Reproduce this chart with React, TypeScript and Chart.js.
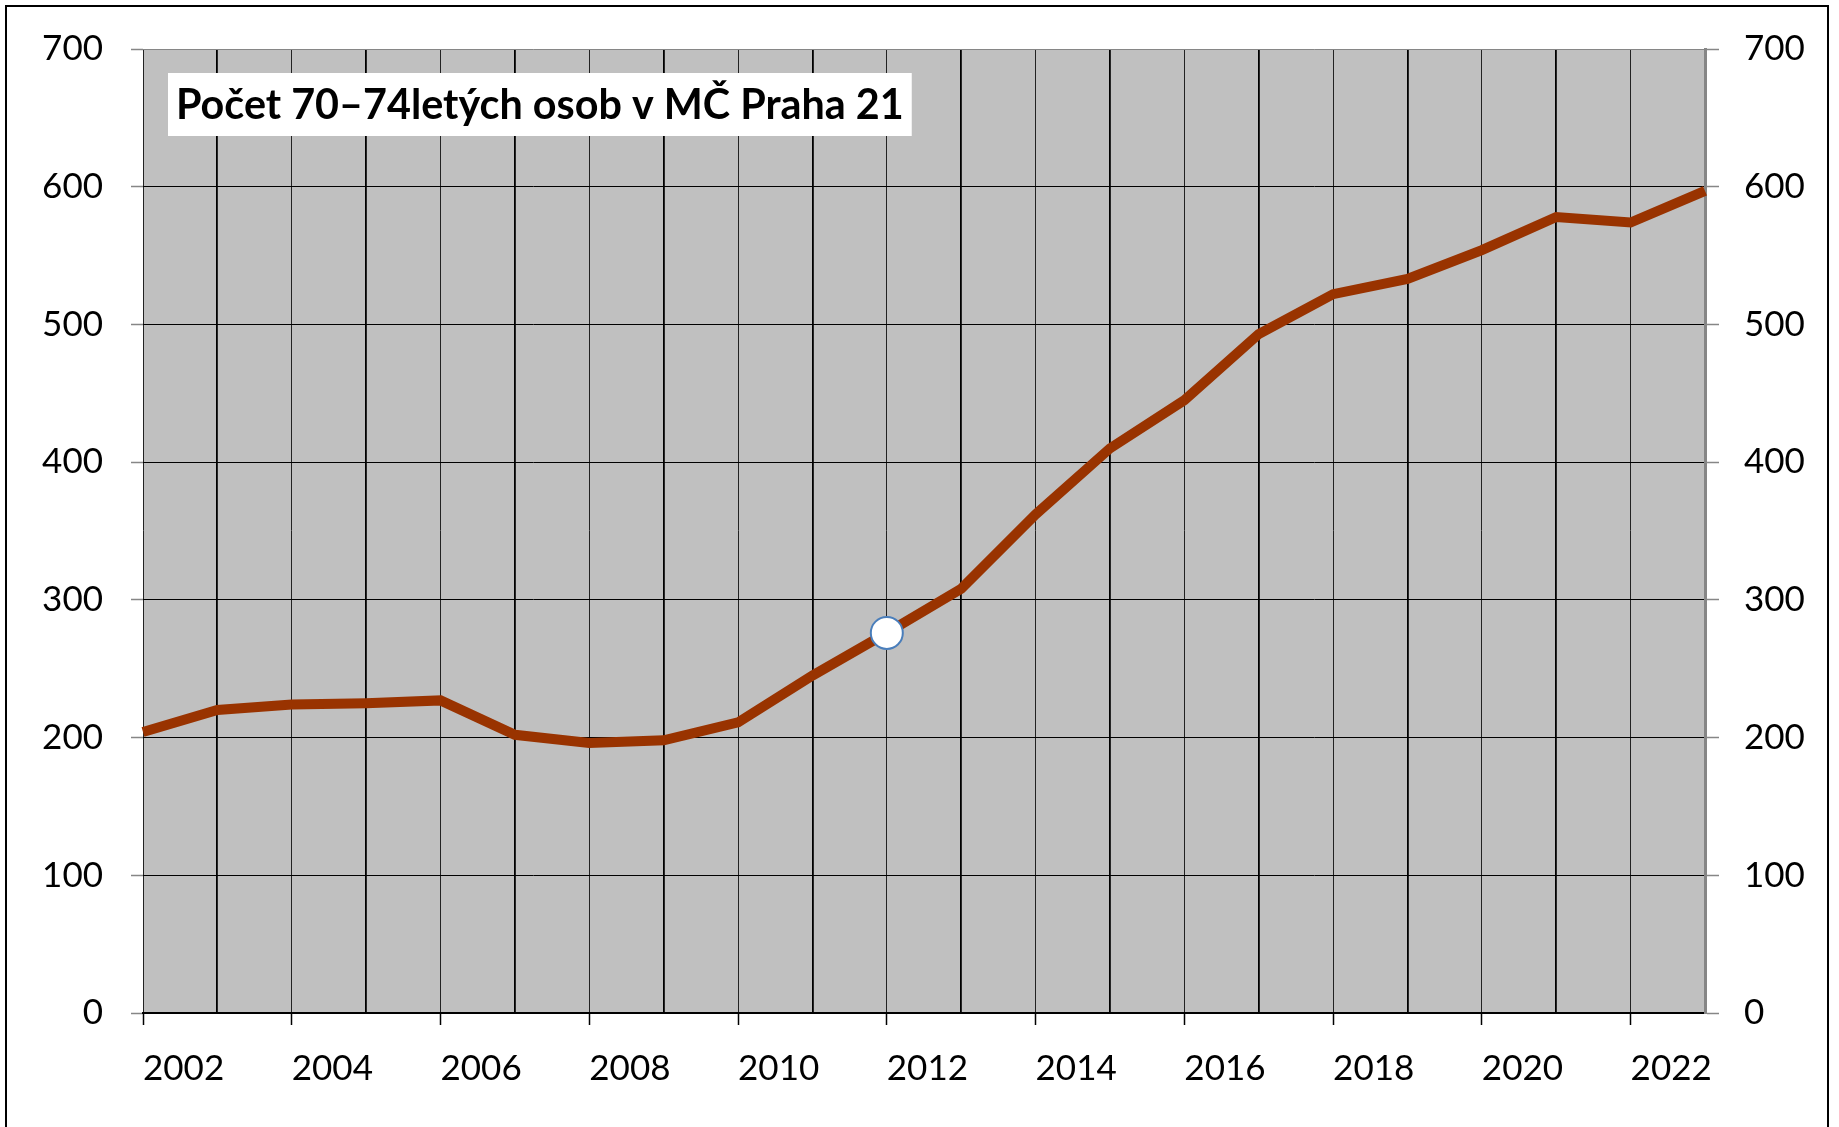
import React, { useEffect, useRef } from "react";
import { Chart, registerables } from "chart.js";

Chart.register(...registerables);

const years: string[] = [
  "2002", "2003", "2004", "2005", "2006", "2007", "2008", "2009", "2010", "2011", "2012",
  "2013", "2014", "2015", "2016", "2017", "2018", "2019", "2020", "2021", "2022", "2023",
];
const counts: number[] = [
  204, 220, 224, 225, 227, 202, 196, 198, 211, 245, 276,
  308, 362, 410, 445, 493, 522, 533, 554, 578, 574, 597,
];
const highlightIndex = 10;
const yMin = 0;
const yMax = 700;
const yStep = 100;
const titleText = "Počet 70–74letých osob v MČ Praha 21";

const FONT = "Lato, 'Open Sans', sans-serif";

const bgPlugin = {
  id: "plotBg",
  beforeDraw(chart: any) {
    const { ctx, chartArea } = chart;
    ctx.save();
    ctx.fillStyle = "#ffffff";
    ctx.fillRect(0, 0, chart.width, chart.height);
    ctx.fillStyle = "#c0c0c0";
    ctx.fillRect(chartArea.left, chartArea.top, chartArea.right - chartArea.left, chartArea.bottom - chartArea.top);
    ctx.restore();
  },
  afterDraw(chart: any) {
    const { ctx } = chart;
    ctx.save();
    // outer frame
    ctx.strokeStyle = "#000";
    ctx.lineWidth = 2;
    ctx.strokeRect(6, 6, 1822, 1300);
    // title box
    const targetW = 728;
    ctx.font = `bold 100px ${FONT}`;
    const w100 = ctx.measureText(titleText).width;
    const fs = Math.min(44, (100 * targetW) / w100);
    ctx.font = `bold ${fs}px ${FONT}`;
    const tw = ctx.measureText(titleText).width;
    const bx = 168;
    const by = 73;
    const bh = 63;
    ctx.fillStyle = "#ffffff";
    ctx.fillRect(bx, by, tw + 16, bh);
    ctx.fillStyle = "#000";
    ctx.textBaseline = "middle";
    ctx.textAlign = "left";
    ctx.fillText(titleText, bx + 8, by + bh / 2 + 1);
    ctx.restore();
  },
};

export default function App() {
  const ref = useRef<HTMLCanvasElement | null>(null);
  useEffect(() => {
    if (!ref.current) return;
    const last = years.length - 1;
    const chart = new Chart(ref.current, {
      type: "line",
      data: {
        labels: years,
        datasets: [
          {
            data: counts,
            borderColor: "#993300",
            borderWidth: 10,
            tension: 0,
            pointRadius: counts.map((_, i) => (i === highlightIndex ? 16 : 0)),
            pointHoverRadius: counts.map((_, i) => (i === highlightIndex ? 16 : 0)),
            pointBackgroundColor: "#ffffff",
            pointBorderColor: "#4a7ebb",
            pointBorderWidth: 2,
          },
        ],
      },
      options: {
        animation: false,
        responsive: false,
        events: [],
        layout: { padding: { top: 47, left: 0, right: 0, bottom: 0 } },
        plugins: { legend: { display: false }, tooltip: { enabled: false }, title: { display: false } },
        scales: {
          x: {
            type: "category",
            offset: false,
            afterFit: (s: any) => { s.height = 114; },
            border: { display: true, color: "#000", width: 2 },
            grid: {
              color: (c: any) => (c.index === last ? "#868686" : c.index % 2 === 1 ? "#000" : "#222"),
              lineWidth: (c: any) => (c.index === last ? 3 : c.index % 2 === 1 ? 1.8 : 1),
              tickColor: (c: any) => (c.index % 2 === 0 && c.index !== last ? "#000" : "rgba(0,0,0,0)"),
              tickLength: 12,
              tickWidth: 1.5,
            },
            ticks: {
              autoSkip: false,
              maxRotation: 0,
              align: "start",
              padding: 23,
              color: "#000",
              font: { family: FONT, size: 35 },
              callback: (_v: any, i: number) => (i % 2 === 0 ? years[i] : ""),
            },
          },
          y: {
            position: "left",
            min: yMin,
            max: yMax,
            afterFit: (s: any) => { s.width = 143; },
            border: { display: false },
            grid: {
              color: (c: any) => (c.tick && c.tick.value === yMax ? "#868686" : "#000"),
              lineWidth: 1,
              tickColor: "#868686",
              tickLength: 12,
              tickWidth: 1.5,
            },
            ticks: {
              stepSize: yStep,
              padding: 28,
              color: "#000",
              font: { family: FONT, size: 35 },
            },
          },
          y2: {
            position: "right",
            min: yMin,
            max: yMax,
            afterFit: (s: any) => { s.width = 134; },
            border: { display: true, color: "#868686", width: 3 },
            grid: {
              drawOnChartArea: false,
              tickColor: "#868686",
              tickLength: 14,
              tickWidth: 1.5,
            },
            ticks: {
              stepSize: yStep,
              padding: 25,
              color: "#000",
              font: { family: FONT, size: 35 },
            },
          },
        },
      },
      plugins: [bgPlugin],
    } as any);
    return () => chart.destroy();
  }, []);
  return (
    <div style={{ position: "fixed", left: 0, top: 0, width: 1839, height: 1127, background: "#fff" }}>
      <canvas ref={ref} width={1839} height={1127} style={{ display: "block" }} />
    </div>
  );
}
